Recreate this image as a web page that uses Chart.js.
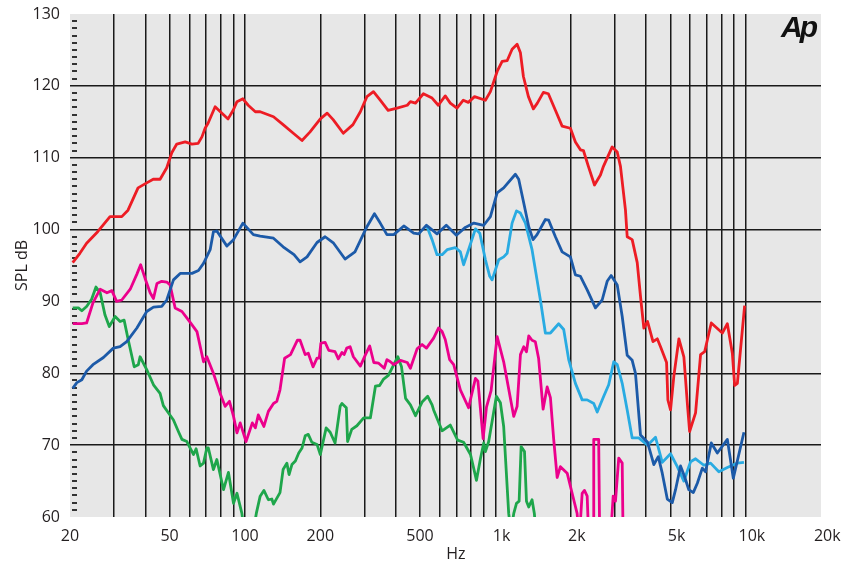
<!DOCTYPE html>
<html>
<head>
<meta charset="utf-8">
<script src="https://cdn.jsdelivr.net/npm/chart.js@4.4.1/dist/chart.umd.min.js"></script>
<style>
  html, body { margin: 0; padding: 0; background: #fff; }
  canvas { display: block; }
</style>
</head>
<body>
<canvas id="spl" width="844" height="562"></canvas>
<script>
// axis ticks
const xTicks = [20,30,40,50,60,70,80,90,100,200,300,400,500,600,700,800,900,1000,2000,3000,4000,5000,6000,7000,8000,9000,10000,20000];
const xLabelVals = [20,50,100,200,500,1000,2000,5000,10000,20000];
const xLabelText = ['20','50','100','200','500','1k','2k','5k','10k','20k'];
const yTicks = [60,70,80,90,100,110,120,130];

// red curve
const redHz = [20.5,21.9,23.3,25.8,28.9,32.2,34.1,37.4,40.5,43.0,45.8,48.7,51.0,53.4,57.7,61.4,65.0,67.3,69.3,71.2,76.0,80.9,85.6,89.7,92.9,98.1,103,110,115,130,142,156,169,182,200,213,225,247,270,289,307,326,347,373,405,445,458,480,516,559,592,631,661,703,745,780,826,913,956,1017,1065,1115,1167,1222,1260,1295,1356,1419,1472,1556,1629,1738,1849,1995,2089,2188,2249,2354,2490,2630,2704,2930,3069,3162,3311,3364,3522,3689,3802,3920,4057,4265,4436,4571,4832,4891,5012,5167,5413,5665,5847,5973,6309,6607,6858,7290,8070,8451,8849,9041,9267,9908];
const redDb = [95.4,96.7,98.1,99.7,101.8,101.8,102.7,105.8,106.5,107,107,108.6,110.7,111.9,112.2,111.9,112,112.9,114.1,114.8,117.1,116.2,115.4,116.6,117.8,118.2,117.3,116.4,116.4,115.7,114.6,113.4,112.4,113.6,115.4,116.2,115.3,113.4,114.6,116.4,118.5,119.2,118,116.6,116.9,117.3,117.8,117.6,118.9,118.3,117.3,118.6,117.6,116.9,118,117.7,118.5,118,119.2,122,123.4,123.5,125.1,125.8,124.6,121.3,118.5,116.8,117.6,119.1,118.9,116.6,114.4,114.1,112.2,111.1,111,108.8,106.2,107.6,108.8,111.5,110.8,108.8,102.7,99,98.6,95.4,90.7,86.3,87.2,84.4,84.8,83.7,81.5,76.3,74.9,79.6,84.8,82.3,75.9,71.9,74.5,82.6,83,87,85.6,86.9,82.8,78.3,78.6,89.4];

// dark blue curve
const blueHz = [20.5,21.3,22.3,23.3,24.7,27.2,29.8,31.7,33.7,37.0,40.5,43.1,46.5,48.7,51.8,55.1,61.4,65.2,68.3,72.6,74.8,77.2,84.7,90.0,98.1,108,115,130,142,157,166,177,194,209,226,251,275,307,329,347,369,393,431,472,494,531,585,637,699,759,821,899,956,1017,1080,1203,1240,1299,1360,1415,1468,1585,1634,1738,1849,1995,2089,2188,2328,2512,2672,2798,2903,3069,3213,3364,3522,3630,3802,4057,4298,4478,4644,4864,5092,5248,5495,5704,5929,6177,6412,6713,6918,7290,7708,8451,8928,9846];
const blueDb = [77.9,78.7,79.1,80.3,81.2,82.2,83.5,83.7,84.4,86.3,88.6,89.2,89.3,90.2,93,93.9,93.9,94.3,95.3,97.2,99.7,99.8,97.7,98.6,100.9,99.3,99.1,98.8,97.6,96.5,95.5,96.2,98.2,99,98.1,95.9,96.9,100.4,102.2,100.9,99.3,99.3,100.5,99.5,99.4,100.6,99.4,100.6,99.2,100.3,100.9,100.6,101.8,105.1,105.8,107.7,107,103.7,100.4,98.6,99.3,101.4,101.3,99,96.9,96.2,93.7,93.5,91.6,89.1,90.2,92.8,93.6,92.3,87.9,82.5,81.8,80,71.4,70.4,67.3,68.4,66.1,62.5,62,63.8,67.1,65.6,63.8,63.4,64.7,66.8,66.3,70.3,68.9,70.8,65.4,71.8];

// light blue curve
const cyanHz = [531,559,585,613,642,692,725,747,782,833,867,913,950,971,1032,1080,1115,1167,1215,1260,1319,1402,1468,1514,1585,1660,1791,1876,1964,2089,2223,2328,2473,2553,2711,2838,2973,3069,3213,3364,3522,3741,4057,4365,4644,5012,5333,5665,6026,6309,6812,7244,7816,8451,9267,9846];
const cyanDb = [100.6,98.6,96.5,96.5,97.2,97.5,96.9,95.1,97.2,100.1,99.5,95.8,93.5,93,95.8,96.2,96.7,100.9,102.6,102.3,100.9,97.2,93,90.2,85.6,85.6,86.9,86.1,81.9,78.6,76.3,76.3,75.8,74.6,76.8,78.4,81.6,81.2,78.6,74.9,71,71,70,71.1,67.6,68.8,67,65,67.7,68.1,67.2,67.5,66.3,66.9,67.5,67.6];

// magenta curve
const pinkHz = [20.5,22.3,23.3,24.7,26.4,28.1,29.4,30.7,32.2,34.8,37.0,38.3,39.9,41.8,43.1,44.5,46.5,48.7,50.2,52.6,56.0,59.5,64.3,68.3,70.4,74.8,79.6,83.3,86.7,90.0,92.9,95.7,101,107,110,113,119,124,130,134,138,144,152,162,166,174,179,187,194,198,201,209,216,229,236,244,249,255,263,271,289,303,315,327,342,360,369,381,393,418,445,458,487,510,531,567,593,613,631,657,682,725,782,833,852,894,922,962,1017,1080,1185,1222,1260,1299,1332,1360,1402,1445,1489,1552,1611,1660,1711,1766,1820,1937,2027,2122,2166,2223,2270,2328,2361,2459,2473,2588,2612,2884,2957,3020,3112,3213,3240];
const pinkDb = [86.9,86.9,87,89.8,91.7,91.2,91.5,90,90.2,91.7,93.8,95.1,93.2,91.2,90.4,92.5,92.8,92.7,92.3,89.1,88.6,87.4,85.8,81.6,82.3,80,77.2,75.4,76.1,74,71.7,73.1,70.5,73.1,72.4,74.2,72.6,74.7,75.8,76.1,77.7,82.1,82.6,84.6,84.6,82.6,82.8,80.9,82.1,82.1,84.2,84.3,83.2,83,82,82.9,82.6,83.5,83.7,82.3,81,82.6,83.8,81.5,81.4,80.7,81.9,81.6,81.2,81.8,81.5,80.7,83.4,84,83.5,84.9,86.3,85.8,84.7,81.9,81.2,77.7,75.2,79.3,78.9,70.9,75.3,77.6,85.1,81.6,74,75.4,82.6,83.7,83,85.2,84.6,84.4,82.1,75,78.1,76.6,70.8,65.5,67,66.1,63.3,60.5,57,63.3,63.7,62.9,57,57,70.8,70.8,57,57,62.9,62.2,68.2,67.5,57];

// green curve
const greenHz = [20.5,21.6,22.3,23.3,24.4,25.4,26.4,27.6,28.7,30.3,31.7,32.9,34.2,36.1,37.5,38.1,40.5,43.1,45.8,47.2,49.4,51.8,54.2,56.0,58.6,60.4,62.3,63.8,66.2,68.3,70.4,71.4,74.8,77.2,82.1,85.9,90.0,92.9,97.2,99.3,108,111,115,119,124,128,130,138,142,147,150,154,159,164,169,174,179,185,194,200,211,219,229,240,244,254,257,267,280,298,317,332,345,358,374,393,408,422,438,458,480,510,537,559,567,613,661,707,747,796,841,872,899,913,941,1010,1048,1080,1131,1155,1185,1215,1245,1268,1308,1332,1360,1402,1432,1452];
const greenDb = [89.1,89.1,88.7,89.3,90.3,92,91.2,88.1,86.5,87.9,87.2,87.4,84.6,80.9,81.2,82.3,80.5,78.4,77.2,75.5,74.5,73.5,71.9,70.8,70.5,69.6,68.7,69.5,67.1,67.5,69.6,69.6,66.6,68,63.8,66.2,61.9,63.3,60.5,58,58,60.5,62.9,63.7,62.4,62.5,61.8,63.4,66.6,67.5,65.9,67.3,67.8,68.9,69.6,71.3,71.5,70.4,70.1,68.7,72.4,71.8,70.3,75.4,75.8,75.2,70.5,72.2,72.7,73.8,73.8,78.2,78.3,79.2,79.7,81.2,82.3,80.9,76.5,75.6,74.1,76,76.8,75.6,74.9,72,72.8,70.7,70.4,68.7,65.1,68.1,70.3,69.1,70.5,76.8,75.9,72.6,60.5,58,60.5,61.9,62.2,69.8,69.1,62.2,61.4,62.4,60.5,58];

function pts(hz, db) {
  return hz.map((f, i) => ({ x: f, y: db[i] }));
}
function series(hz, db, color) {
  return {
    data: pts(hz, db),
    borderColor: color,
    borderWidth: 2.8,
    pointRadius: 0,
    tension: 0,
    borderJoinStyle: 'round',
    clip: 0
  };
}

Chart.defaults.font.family = '"Open Sans", sans-serif';
Chart.defaults.font.size = 16;
Chart.defaults.color = '#231f20';

// grey plot area, minor dB dashes, logo
const decor = {
  id: 'decor',
  beforeDraw(chart) {
    const { ctx, chartArea: a } = chart;
    ctx.save();
    ctx.fillStyle = '#e7e7e7';
    ctx.fillRect(a.left, a.top, a.right - a.left, a.bottom - a.top);
    ctx.restore();
  },
  beforeDatasetsDraw(chart) {
    const { ctx, chartArea: a } = chart;
    const ys = chart.scales.y;
    ctx.save();
    ctx.fillStyle = '#333';
    for (let v = 61; v < 130; v++) {
      if (v % 10 === 0) continue;
      const y = Math.round(ys.getPixelForValue(v));
      ctx.fillRect(a.left + 2, y - 1, 5, 2);
    }
    ctx.restore();
  },
  afterDraw(chart) {
    const { ctx } = chart;
    ctx.save();
    ctx.fillStyle = '#111';
    ctx.font = 'italic bold 30px "Liberation Sans"';
    ctx.letterSpacing = '-3px';
    ctx.textBaseline = 'alphabetic';
    ctx.fillText('Ap', 781, 37);
    ctx.restore();
  }
};

new Chart(document.getElementById('spl'), {
  type: 'line',
  data: {
    datasets: [
      series(redHz, redDb, '#ed1c24'),
      series(blueHz, blueDb, '#1c5aa8'),
      series(cyanHz, cyanDb, '#29abe2'),
      series(pinkHz, pinkDb, '#ec008c'),
      series(greenHz, greenDb, '#1ea64b')
    ]
  },
  options: {
    responsive: false,
    animation: false,
    layout: { padding: { top: 14, right: 23, left: 0, bottom: 0 } },
    plugins: { legend: { display: false }, tooltip: { enabled: false } },
    scales: {
      x: {
        type: 'logarithmic',
        min: 20,
        max: 20000,
        afterBuildTicks: s => { s.ticks = xTicks.map(v => ({ value: v })); },
        afterFit: s => { s.height = 45; s.paddingLeft = 0; s.paddingRight = 0; },
        ticks: {
          autoSkip: false,
          maxRotation: 0,
          padding: 10,
          callback: v => {
            const i = xLabelVals.indexOf(v);
            if (i < 0) return '';
            const t = xLabelText[i];
            return t.endsWith('k') ? '   ' + t : t;
          }
        },
        grid: {
          drawTicks: false,
          lineWidth: 1.5,
          color: c => (c.tick && (c.tick.value === 20 || c.tick.value === 20000)) ? 'rgba(0,0,0,0)' : '#1a1a1a'
        },
        border: { display: false },
        title: { display: true, text: '     Hz', padding: 0, font: { size: 16, lineHeight: 1 } }
      },
      y: {
        min: 60,
        max: 130,
        afterBuildTicks: s => { s.ticks = yTicks.map(v => ({ value: v })); },
        afterFit: s => { s.width = 70; s.paddingTop = 0; s.paddingBottom = 0; },
        ticks: { padding: 10 },
        grid: {
          drawTicks: false,
          lineWidth: 1.5,
          color: c => (c.tick && (c.tick.value === 60 || c.tick.value === 130)) ? 'rgba(0,0,0,0)' : '#1a1a1a'
        },
        border: { display: false },
        title: { display: true, text: 'SPL dB', padding: { top: 14, bottom: 0 }, font: { size: 16, lineHeight: 1 } }
      }
    }
  },
  plugins: [decor]
});
</script>
</body>
</html>
